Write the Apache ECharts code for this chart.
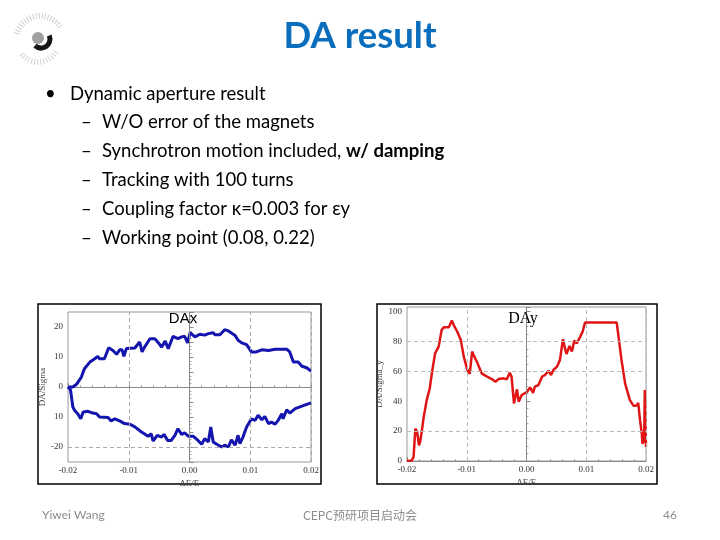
<!DOCTYPE html>
<html>
<head>
<meta charset="utf-8">
<script src="https://cdn.jsdelivr.net/npm/echarts@6/dist/echarts.min.js"></script>
<style>
html,body{margin:0;padding:0;background:#fff;}
#c{width:720px;height:540px;}
</style>
</head>
<body>
<div id="c"></div>
<script>
// ---------- DATA ----------
const xTickValues = [-0.02, -0.01, 0, 0.01, 0.02];
const xTickLabels = ['-0.02', '-0.01', '0.00', '0.01', '0.02'];
const leftYTickValues = [-20, -10, 0, 10, 20];
const leftYTickLabels = ['-20', '10', '0', '10', '20'];
const rightYTickValues = [0, 20, 40, 60, 80, 100];
const rightYTickLabels = ['0', '20', '40', '60', '80', '100'];

// DAx upper branch
const dExUpper = [-0.0200,-0.0192,-0.0186,-0.0178,-0.0173,-0.0164,-0.0156,-0.0151,-0.0148,-0.0140,-0.0133,-0.0126,-0.0120,-0.0115,-0.0111,-0.0108,-0.0104,-0.0090,-0.0082,-0.0078,-0.0074,-0.0065,-0.0057,-0.0051,-0.0046,-0.0040,-0.0035,-0.0027,-0.0019,-0.0013,-0.0008,-0.0003,0.0001,0.0009,0.0017,0.0025,0.0031,0.0039,0.0042,0.0050,0.0058,0.0064,0.0069,0.0075,0.0080,0.0086,0.0094,0.0102,0.0110,0.0119,0.0130,0.0141,0.0160,0.0165,0.0171,0.0179,0.0185,0.0193,0.0200];
const daxUpper = [0,0,0.9,3.3,6.1,8.3,9.4,10.2,9.4,9.4,13.1,12.2,10.9,12.4,12.4,10.2,12.8,13.0,15.0,11.7,13.3,16.1,16.1,14.7,13.3,15.3,12.8,16.9,16.1,16.7,16.9,14.7,18.1,16.7,17.6,17.3,17.8,18.1,17.4,17.4,19.1,18.7,18.0,17.2,15.6,14.7,14.1,11.7,11.7,12.4,12.2,12.6,12.6,11.7,8.3,8.3,6.9,6.4,5.3];

// DAx lower branch
const dExLower = [-0.0200,-0.0196,-0.0195,-0.0192,-0.0189,-0.0184,-0.0179,-0.0175,-0.0167,-0.0159,-0.0153,-0.0148,-0.0134,-0.0129,-0.0123,-0.0115,-0.0107,-0.0098,-0.0090,-0.0079,-0.0068,-0.0063,-0.0060,-0.0053,-0.0046,-0.0042,-0.0036,-0.0030,-0.0024,-0.0019,-0.0013,-0.0008,-0.0002,0.0006,0.0014,0.0020,0.0025,0.0031,0.0035,0.0039,0.0045,0.0053,0.0058,0.0064,0.0069,0.0075,0.0080,0.0083,0.0088,0.0094,0.0102,0.0108,0.0113,0.0119,0.0124,0.0130,0.0135,0.0141,0.0146,0.0152,0.0154,0.0160,0.0165,0.0174,0.0185,0.0193,0.0200];
const daxLower = [0,-0.9,-2.2,-6.7,-7.8,-8.9,-10.6,-8.3,-8.1,-8.7,-8.9,-10.0,-10.2,-11.3,-10.6,-11.3,-12.2,-12.4,-13.3,-15.0,-16.4,-15.6,-18.0,-16.1,-16.7,-15.8,-17.8,-17.8,-16.1,-13.9,-15.8,-15.3,-16.4,-16.4,-17.8,-19.1,-17.2,-18.3,-13.3,-18.3,-19.1,-20.0,-19.4,-20.0,-17.6,-19.4,-16.1,-18.9,-16.7,-13.3,-10.6,-11.1,-9.4,-10.9,-9.8,-12.2,-11.7,-12.4,-11.1,-8.9,-10.6,-7.6,-8.7,-7.2,-6.4,-5.8,-5.3];

// DAy
const dEy = [-0.0200,-0.0192,-0.0189,-0.0186,-0.0183,-0.0180,-0.0178,-0.0175,-0.0172,-0.0169,-0.0167,-0.0162,-0.0158,-0.0153,-0.0147,-0.0142,-0.0138,-0.0130,-0.0128,-0.0125,-0.0122,-0.0116,-0.0110,-0.0105,-0.0099,-0.0095,-0.0091,-0.0086,-0.0083,-0.0075,-0.0066,-0.0058,-0.0052,-0.0047,-0.0038,-0.0033,-0.0028,-0.0025,-0.0021,-0.0016,-0.0013,-0.0008,0.0001,0.0006,0.0011,0.0014,0.0020,0.0026,0.0031,0.0037,0.0041,0.0045,0.0051,0.0056,0.0061,0.0065,0.0067,0.0072,0.0076,0.0080,0.0084,0.0090,0.0094,0.0098,0.0129,0.0151,0.0154,0.0159,0.0165,0.0173,0.0179,0.0184,0.0187,0.0190,0.0193,0.0194,0.0197,0.0198,0.0200];
const day = [0,0.4,2.7,21.7,19.5,10.5,12.8,20.6,29.5,29.5,40.7,48.5,59.7,72.0,76.5,87.7,89.5,89.5,89.9,94.0,91.1,86.6,81.0,69.8,60.9,58.2,73.2,68.7,66.4,58.6,56.4,54.8,53.0,54.8,55.3,54.6,59.1,56.4,38.5,47.9,39.6,44.1,46.3,49.2,45.6,49.7,50.8,56.4,57.5,60.4,57.5,60.9,63.1,67.6,81.4,74.3,71.6,77.0,73.2,80.5,78.7,83.2,86.6,92.6,92.6,92.6,83.2,67.6,51.9,40.7,37.0,37.0,38.9,27.3,18.3,11.6,13.9,47.4,9.4];

// reference / grid lines
const leftDashX = [-0.01, 0.01, 0.02];
const leftDashY = [-20];
const rightDashX = [-0.01, 0.01, 0.02];
const rightDashY = [20, 60, 80];

// ---------- CHART ----------
function labelFor(values, labels) {
  return function (v) {
    const i = values.findIndex(t => Math.abs(t - v) < 1e-9);
    return i >= 0 ? labels[i] : '';
  };
}
const tickFont = {fontFamily: 'Liberation Serif', fontSize: 9, color: '#333'};
const nameFont = {fontFamily: 'Liberation Serif', fontSize: 9, color: '#444'};

function xAxisCfg(gi) {
  return {
    gridIndex: gi, type: 'value', min: -0.02, max: 0.02, interval: 0.01,
    axisLine: {lineStyle: {color: '#888', width: 1}},
    axisTick: {inside: true, length: 4, lineStyle: {color: '#888'}},
    minorTick: {show: true, splitNumber: 5, length: 2, lineStyle: {color: '#aaa'}},
    splitLine: {show: false},
    axisLabel: Object.assign({formatter: labelFor(xTickValues, xTickLabels), margin: 4}, tickFont),
    name: 'ΔE/E', nameLocation: 'middle', nameGap: 17, nameTextStyle: nameFont
  };
}
function yAxisCfg(gi, min, max, interval, vals, labs, name) {
  return {
    gridIndex: gi, type: 'value', min: min, max: max, interval: interval,
    axisLine: {lineStyle: {color: '#888', width: 1}},
    axisTick: {inside: true, length: 4, lineStyle: {color: '#888'}},
    minorTick: {show: true, splitNumber: 4, length: 2, lineStyle: {color: '#aaa'}},
    splitLine: {show: false},
    axisLabel: Object.assign({formatter: labelFor(vals, labs), margin: 5}, tickFont),
    name: name, nameLocation: 'middle', nameGap: 21, nameRotate: 90, nameTextStyle: nameFont
  };
}
function refLines(dx, dy, dashColor) {
  const d = [{xAxis: 0, lineStyle: {type: 'solid', color: '#888', width: 1}}];
  dx.forEach(v => d.push({xAxis: v}));
  dy.forEach(v => d.push({yAxis: v}));
  return {
    silent: true, symbol: 'none', label: {show: false},
    lineStyle: {type: [4, 3], color: dashColor, width: 1},
    data: d, animation: false
  };
}

const bodyFont = '18.5px Lato';
const lines = [
  {y: 94, bullet: '•', bx: 45, tx: 70, text: 'Dynamic aperture result'},
  {y: 122, bullet: '–', bx: 81, tx: 102, text: 'W/O error of the magnets'},
  {y: 151, bullet: '–', bx: 81, tx: 102, text: '{n|Synchrotron motion included, }{b|w/ damping}'},
  {y: 180, bullet: '–', bx: 81, tx: 102, text: 'Tracking with 100 turns'},
  {y: 209, bullet: '–', bx: 81, tx: 102, text: 'Coupling factor κ=0.003 for εy'},
  {y: 238, bullet: '–', bx: 81, tx: 102, text: 'Working point (0.08, 0.22)'}
];
const graphics = [];
lines.forEach(l => {
  graphics.push({type: 'text', style: {text: l.bullet, x: l.bx, y: l.y, font: bodyFont, fill: '#000', verticalAlign: 'middle'}});
  graphics.push({type: 'text', style: {
    text: l.text, x: l.tx, y: l.y, font: bodyFont, fill: '#000', verticalAlign: 'middle',
    rich: {n: {font: bodyFont, fill: '#000'}, b: {font: 'bold 18.5px Lato', fill: '#000'}}
  }});
});
// title
graphics.push({type: 'text', style: {text: 'DA result', x: 360, y: 36, font: 'bold 36.5px Lato', fill: '#0A6EBD', align: 'center', verticalAlign: 'middle'}});
// footer
graphics.push({type: 'text', style: {text: 'Yiwei Wang', x: 42, y: 515, font: '12px Lato', fill: '#8c8c8c', verticalAlign: 'middle'}});
graphics.push({type: 'text', style: {text: 'CEPC预研项目启动会', x: 360, y: 515, font: '12px "Noto Sans CJK SC"', fill: '#8c8c8c', align: 'center', verticalAlign: 'middle'}});
graphics.push({type: 'text', style: {text: '46', x: 670, y: 515, font: '12px Lato', fill: '#8c8c8c', align: 'center', verticalAlign: 'middle'}});
// plot frames
graphics.push({type: 'rect', shape: {x: 38, y: 304, width: 283, height: 180}, style: {fill: 'none', stroke: '#000', lineWidth: 1.5}});
graphics.push({type: 'rect', shape: {x: 377, y: 304, width: 280, height: 180}, style: {fill: 'none', stroke: '#000', lineWidth: 1.5}});
// in-plot labels
graphics.push({type: 'text', z: 10, style: {text: 'DAx', x: 183, y: 319, font: '15px "Liberation Sans"', fill: '#000', align: 'center', verticalAlign: 'middle'}});
graphics.push({type: 'text', z: 10, style: {text: 'DAy', x: 523, y: 319, font: '16px "Liberation Serif"', fill: '#000', align: 'center', verticalAlign: 'middle'}});
// logo (approximation)
graphics.push({type: 'arc', shape: {cx: 40, cy: 40, r: 24, startAngle: 3.4, endAngle: 5.8}, style: {stroke: '#cfcfcf', lineWidth: 6, lineDash: [1, 2], fill: 'none'}});
graphics.push({type: 'arc', shape: {cx: 38, cy: 42, r: 20, startAngle: 0.5, endAngle: 2.6}, style: {stroke: '#d4d4d4', lineWidth: 6, lineDash: [1, 2], fill: 'none'}});
graphics.push({type: 'circle', shape: {cx: 38, cy: 38, r: 6}, style: {fill: '#a0a0a0'}});
graphics.push({type: 'arc', shape: {cx: 41, cy: 39, r: 9, startAngle: -0.4, endAngle: 2.3}, style: {stroke: '#151515', lineWidth: 5, fill: 'none'}});

const option = {
  animation: false,
  backgroundColor: '#fff',
  grid: [
    {left: 68, top: 312, width: 243, height: 150, show: true, borderColor: '#999', borderWidth: 1},
    {left: 407, top: 307, width: 239, height: 154, show: true, borderColor: '#999', borderWidth: 1}
  ],
  xAxis: [xAxisCfg(0), xAxisCfg(1)],
  yAxis: [
    yAxisCfg(0, -25, 25, 5, leftYTickValues, leftYTickLabels, 'DA/Sigma'),
    yAxisCfg(1, 0, 103, 20, rightYTickValues, rightYTickLabels, 'DA/Sigma_y')
  ],
  series: [
    {type: 'line', xAxisIndex: 0, yAxisIndex: 0, showSymbol: false, symbol: 'none',
     data: dExUpper.map((x, i) => [x, daxUpper[i]]),
     lineStyle: {color: '#1414AE', width: 3}, markLine: refLines(leftDashX, leftDashY, '#aaa')},
    {type: 'line', xAxisIndex: 0, yAxisIndex: 0, showSymbol: false, symbol: 'none',
     data: dExLower.map((x, i) => [x, daxLower[i]]),
     lineStyle: {color: '#1414AE', width: 3}},
    {type: 'line', xAxisIndex: 1, yAxisIndex: 1, showSymbol: false, symbol: 'none',
     data: dEy.map((x, i) => [x, day[i]]),
     lineStyle: {color: '#E01515', width: 2.5}, markLine: refLines(rightDashX, rightDashY, '#bbb')}
  ],
  graphic: graphics
};
const chart = echarts.init(document.getElementById('c'), null, {renderer: 'canvas'});
chart.setOption(option);
</script>
</body>
</html>
